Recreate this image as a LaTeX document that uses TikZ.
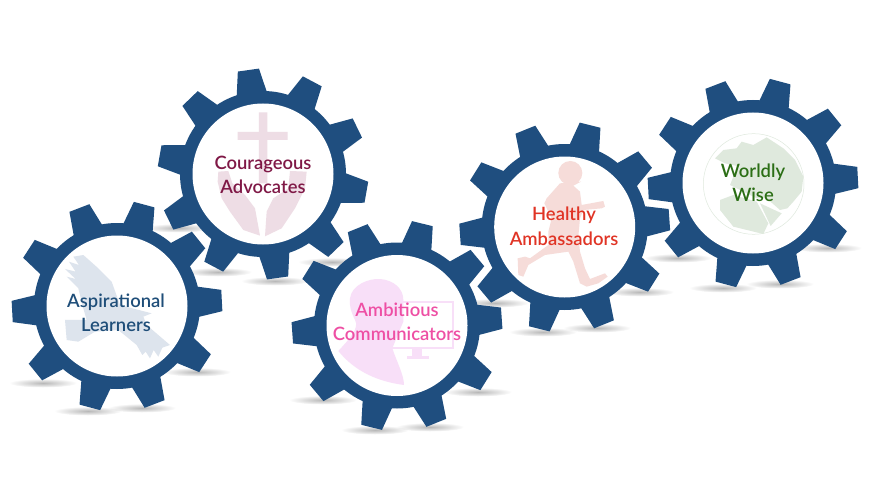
\documentclass[tikz,border=0pt]{standalone}
\usepackage{fontspec}
\setmainfont{Lato Semibold}
\usetikzlibrary{fadings}
\definecolor{gearblue}{HTML}{1F4E7F}
\definecolor{birdtint}{HTML}{DDE4ED}
\definecolor{crosstint}{HTML}{EEDDE5}
\definecolor{headtint}{HTML}{F8DFF8}
\definecolor{runtint}{HTML}{F6DCD9}
\definecolor{globetint}{HTML}{DFE9DD}
\definecolor{aspirecol}{HTML}{1F4E79}
\definecolor{couragecol}{HTML}{7F1846}
\definecolor{ambitcol}{HTML}{EE4FA4}
\definecolor{healthcol}{HTML}{E03425}
\definecolor{worldcol}{HTML}{2B6E15}
\tikzfading[name=softspot, inner color=transparent!72, outer color=transparent!100]
\tikzset{
label text/.style={align=center, font=\fontsize{18.4}{24.5}\selectfont, inner sep=0pt},
tooth/.style={fill=gearblue},
trace/.style={shift={#1}, x=.3333pt, y=-.3333pt},
}
\begin{document}
\begin{tikzpicture}[x=1pt, y=-1pt]
\useasboundingbox (0,0) rectangle (875,492);
\foreach \sx/\sy in {43/383, 88/411, 142/408, 197/372, 178/228, 218/272, 275/281, 332/262, 323/400, 375/430, 430/427, 478/392, 495/303, 543/332, 597/328, 640/292, 678/258, 723/288, 780/284, 828/248}
  \fill[black, path fading=softspot] (\sx,\sy) ellipse (34 and 4.5);
\foreach \gx/\gy/\grot in {117/306/-3, 263/174/10, 397/325.5/-4, 564.7/227/-4, 753/183/-3}{
  \fill[gearblue] (\gx,\gy) circle (83);
  \foreach \i in {0,36,...,324}
    \fill[tooth] ([shift={(\gx,\gy)}]\grot+\i-11:81) -- ([shift={(\gx,\gy)}]\grot+\i-5.8:105.5) -- ([shift={(\gx,\gy)}]\grot+\i+5.8:105.5) -- ([shift={(\gx,\gy)}]\grot+\i+11:81) -- cycle;
  \fill[white] (\gx,\gy) circle (70.5);
}
\begin{scope}[trace={(55,245)}]
\fill[birdtint] (85,30) -- (130,70) -- (170,110) -- (195,180) -- (240,192) -- (290,205) -- (265,215) -- (275,240) -- (345,300) -- (322,308) -- (310,335) -- (296,315) -- (285,340) -- (272,320) -- (262,330) -- (245,300) -- (190,255) -- (120,260) -- (70,290) -- (35,285) -- (30,225) -- (95,225) -- (85,190) -- (70,130) -- (35,95) -- (62,102) -- (30,72) -- (62,80) -- (42,50) -- (72,60) -- (55,35) -- cycle;
\end{scope}
\begin{scope}[trace={(150,60)}]
\fill[crosstint] (327,157) -- (352,157) -- (352,216) -- (413,216) -- (413,240) -- (352,240) -- (352,370) -- (327,370) -- (327,240) -- (263,240) -- (263,216) -- (327,216) -- cycle;
\end{scope}
\begin{scope}[trace={(205,165)}]
\fill[crosstint] (40,20) -- (70,18) -- (82,55) -- (120,90) -- (150,130) -- (165,212) -- (115,195) -- (75,140) -- (50,100) -- (38,50) -- cycle;
\fill[crosstint] (305,20) -- (255,18) -- (250,70) -- (205,100) -- (185,140) -- (180,214) -- (230,190) -- (270,130) -- (300,70) -- cycle;
\end{scope}
\begin{scope}[trace={(335,265)}]
\fill[headtint] (45,100) .. controls (50,60) and (100,40) .. (135,42) .. controls (175,45) and (205,70) .. (205,105) -- (205,170) -- (190,205) -- (172,250) .. controls (185,290) and (207,330) .. (207,360) .. controls (130,350) and (60,320) .. (10,258) .. controls (40,225) and (75,190) .. (60,165) .. controls (48,140) and (42,120) .. (45,100) -- cycle;
\draw[headtint, line width=2pt] (200,110) -- (354,110) -- (354,248) -- (172,248);
\fill[headtint] (232,248) rectangle (262,274);
\fill[headtint] (215,274) rectangle (282,281);
\end{scope}
\begin{scope}[trace={(505,155)}]
\fill[runtint] (196,54) circle (36);
\fill[runtint] (165,85) -- (125,130) -- (118,145) -- (140,190) -- (130,230) -- (130,270) -- (75,310) -- (60,305) -- (38,310) -- (40,360) -- (55,365) -- (70,330) -- (120,300) -- (190,290) -- (205,320) -- (225,385) -- (245,395) -- (280,385) -- (308,365) -- (300,355) -- (255,372) -- (240,340) -- (225,290) -- (220,245) -- (225,190) -- (235,165) -- (290,160) -- (300,155) -- (295,138) -- (230,150) -- (225,110) -- (205,92) -- (228,80) -- cycle;
\end{scope}
\begin{scope}[trace={(700,120)}]
\draw[globetint, line width=.5pt] (161,192) circle (151);
\fill[globetint] (70,90) -- (110,85) -- (125,65) -- (160,75) -- (200,52) -- (250,85) -- (285,120) -- (310,170) -- (305,215) -- (280,245) -- (262,265) -- (240,270) -- (200,235) -- (170,235) -- (130,215) -- (90,195) -- (100,170) -- (120,140) -- (75,130) -- (45,115) -- cycle;
\fill[globetint] (60,240) -- (100,225) -- (170,245) -- (205,310) -- (190,342) -- (100,320) -- (60,270) -- cycle;
\fill[globetint] (180,250) -- (245,280) -- (212,318) -- cycle;
\end{scope}
\node[label text, text=aspirecol] (aspire) at (116,313) {Aspirational\\Learners};
\node[label text, text=couragecol] (courage) at (263,175) {Courageous\\Advocates};
\node[label text, text=ambitcol] (ambit) at (397,322) {Ambitious\\Communicators};
\node[label text, text=healthcol] (health) at (564,226.5) {Healthy\\Ambassadors};
\node[label text, text=worldcol] (world) at (753,183) {Worldly\\Wise};
\end{tikzpicture}
\end{document}
